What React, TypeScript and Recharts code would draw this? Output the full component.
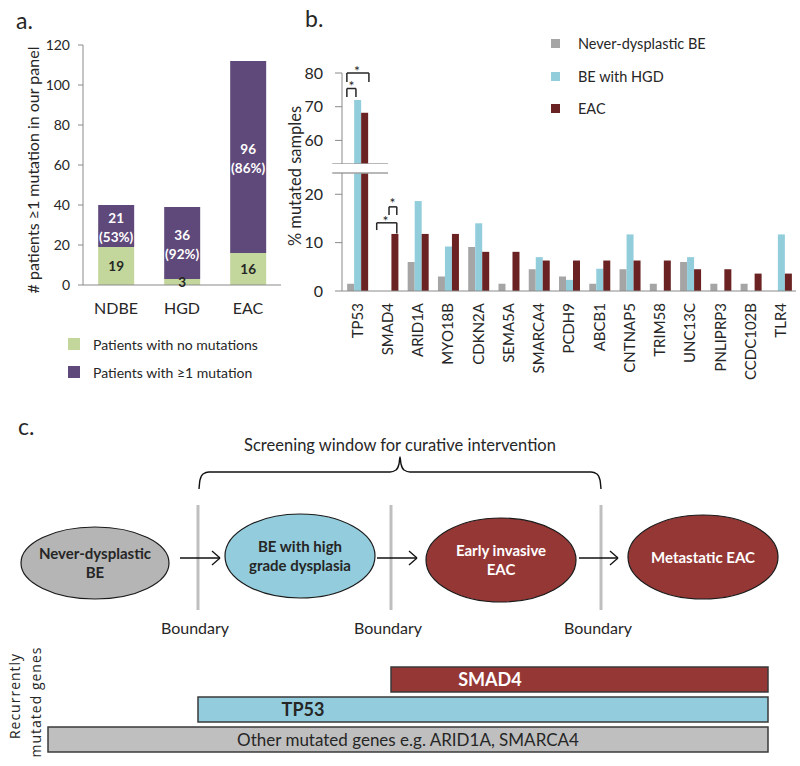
import React from 'react';
import {
  BarChart,
  Bar,
  XAxis,
  YAxis,
  Legend,
  LabelList,
  ReferenceLine,
  ReferenceDot,
  ComposedChart,
  Line,
  Scatter,
  Cell,
} from 'recharts';

const FONT = 'Lato, "Liberation Sans", Arial, sans-serif';
const INK = '#262626';
const AXIS = '#8a8a8a';

// ---------------- panel a ----------------
const cohortGroups = ['NDBE', 'HGD', 'EAC'];
const patientsNoMutation = [19, 3, 16];
const patientsWithMutation = [21, 36, 96];
const patientsWithMutationPct = ['53%', '92%', '86%'];
const panelATicks = [0, 20, 40, 60, 80, 100, 120];
const panelASeries = [
  { key: 'none', label: 'Patients with no mutations', color: '#c3d69b' },
  { key: 'some', label: 'Patients with \u22651 mutation', color: '#5f497a' },
];

// ---------------- panel b ----------------
const geneNames = ['TP53', 'SMAD4', 'ARID1A', 'MYO18B', 'CDKN2A', 'SEMA5A', 'SMARCA4', 'PCDH9', 'ABCB1', 'CNTNAP5', 'TRIM58', 'UNC13C', 'PNLIPRP3', 'CCDC102B', 'TLR4'];
const pctNeverDysplastic = [1.5, 0, 6.0, 3.0, 9.1, 1.5, 4.5, 3.0, 1.5, 4.5, 1.5, 6.0, 1.5, 1.5, 0];
const pctHGD = [72.0, 0, 18.6, 9.2, 14.0, 0, 7.0, 2.3, 4.6, 11.7, 0, 7.0, 0, 0, 11.7];
const pctEAC = [68.2, 11.8, 11.8, 11.8, 8.1, 8.1, 6.3, 6.3, 6.3, 6.3, 6.3, 4.5, 4.5, 3.6, 3.6];
const upperTicks = [60, 70, 80];
const lowerTicks = [0, 10, 20];
const upperDomain: [number, number] = [53, 80];
const lowerDomain: [number, number] = [0, 24.4];
const panelBSeries = [
  { key: 'ndbe', label: 'Never-dysplastic BE', color: '#a5a5a5' },
  { key: 'hgd', label: 'BE with HGD', color: '#92cddc' },
  { key: 'eac', label: 'EAC', color: '#6b2222' },
];
// significance brackets: x in category-band units, y in % units
const significanceBrackets = [
  { panel: 'upper', x1: 0.15, x2: 0.83, top: 80, y1: 77.3, y2: 77.3, starX: 0.46, starY: 80.6 },
  { panel: 'upper', x1: 0.15, x2: 0.43, top: 75.4, y1: 72.9, y2: 72.9, starX: 0.29, starY: 76.0 },
  { panel: 'lower', x1: 1.07, x2: 1.69, top: 14.1, y1: 12.6, y2: 11.9, starX: 1.34, starY: 14.4 },
  { panel: 'lower', x1: 1.45, x2: 1.69, top: 17.4, y1: 15.7, y2: 15.7, starX: 1.56, starY: 18.2 },
];
const axisBreak = { from: -0.3, to: 1.42 };

// ---------------- panel c ----------------
const stages = [
  { id: 'ndbe', label: 'Never-dysplastic\nBE', x: 95, y: 563 },
  { id: 'hgd', label: 'BE with high\ngrade dysplasia', x: 300, y: 556 },
  { id: 'early', label: 'Early invasive\nEAC', x: 501, y: 560 },
  { id: 'meta', label: 'Metastatic EAC', x: 703, y: 557 },
];
const stageBoundaries = [198, 391, 601];
const stageArrows = [
  { from: 180, to: 220, y: 558 },
  { from: 377, to: 417, y: 558 },
  { from: 579, to: 618, y: 558 },
];
const screeningBrace = [
  { x: 199, y: 489 }, { x: 200, y: 480 }, { x: 203, y: 474 }, { x: 209, y: 472 },
  { x: 390, y: 472 }, { x: 396, y: 470 }, { x: 399, y: 464 }, { x: 400, y: 457 },
  { x: 401, y: 464 }, { x: 404, y: 470 }, { x: 410, y: 472 }, { x: 591, y: 472 },
  { x: 597, y: 474 }, { x: 600, y: 480 }, { x: 601, y: 489 },
];
const geneWindows = [
  { gene: 'SMAD4', label: 'SMAD4', start: 391, end: 768 },
  { gene: 'TP53', label: 'TP53', start: 198, end: 768 },
  { gene: 'Other', label: 'Other mutated genes e.g. ARID1A, SMARCA4', start: 48, end: 768 },
];

const stageStyle: Record<string, any> = {
  ndbe: { fill: '#b5b5b5', text: INK, rx: 74, ry: 36 },
  hgd: { fill: '#93cddd', text: INK, rx: 75, ry: 42 },
  early: { fill: '#953735', text: '#ffffff', rx: 75, ry: 42 },
  meta: { fill: '#953735', text: '#ffffff', rx: 75, ry: 42 },
};
const geneStyle: Record<string, any> = {
  SMAD4: { fill: '#953735', text: '#ffffff', bold: true, inset: 99 },
  TP53: { fill: '#93cddd', text: INK, bold: true, inset: 105 },
  Other: { fill: '#bfbfbf', text: INK, bold: false, inset: null },
};

// ---------------- helpers ----------------
const MutatedLabel = (props: any) => {
  const { x, y, width, height, index } = props;
  const cx = x + width / 2;
  const cy = y + height / 2;
  return (
    <text x={cx} y={cy} textAnchor="middle" fill="#ffffff" fontFamily={FONT} fontSize={13.5} fontWeight={700}>
      <tspan x={cx} dy="-0.2em">{patientsWithMutation[index]}</tspan>
      <tspan x={cx} dy="1.4em">({patientsWithMutationPct[index]})</tspan>
    </text>
  );
};

const GeneTick = (props: any) => {
  const { x, y, payload } = props;
  return (
    <text x={x} y={y} transform={`rotate(-90 ${x} ${y})`} textAnchor="end" dy="0.36em" fontSize={15} fontFamily={FONT} fill={INK}>
      {payload.value}
    </text>
  );
};

const LegendA = () => (
  <div style={{ fontFamily: FONT, fontSize: 14, color: INK }}>
    {panelASeries.map((s) => (
      <div key={s.key} style={{ display: 'flex', alignItems: 'center', height: 28 }}>
        <span style={{ display: 'inline-block', width: 12, height: 12, background: s.color, marginRight: 13 }} />
        <span>{s.label}</span>
      </div>
    ))}
  </div>
);

const LegendB = () => (
  <div style={{ fontFamily: FONT, fontSize: 14.5, color: INK }}>
    {panelBSeries.map((s) => (
      <div key={s.key} style={{ display: 'flex', alignItems: 'center', height: 32.7 }}>
        <span style={{ display: 'inline-block', width: 9, height: 9, background: s.color, marginRight: 18 }} />
        <span>{s.label}</span>
      </div>
    ))}
  </div>
);

const renderBrackets = (which: string) =>
  significanceBrackets
    .filter((b) => b.panel === which)
    .flatMap((b, i) => [
      <ReferenceLine key={`${which}-l${i}`} xAxisId="pos" segment={[{ x: b.x1, y: b.y1 }, { x: b.x1, y: b.top }]} stroke={INK} strokeWidth={1.5} ifOverflow="visible" />,
      <ReferenceLine key={`${which}-t${i}`} xAxisId="pos" segment={[{ x: b.x1, y: b.top }, { x: b.x2, y: b.top }]} stroke={INK} strokeWidth={1.5} ifOverflow="visible" />,
      <ReferenceLine key={`${which}-r${i}`} xAxisId="pos" segment={[{ x: b.x2, y: b.top }, { x: b.x2, y: b.y2 }]} stroke={INK} strokeWidth={1.5} ifOverflow="visible" />,
      <ReferenceDot
        key={`${which}-s${i}`}
        xAxisId="pos"
        x={b.starX}
        y={b.starY}
        r={0}
        stroke="none"
        fill="none"
        ifOverflow="visible"
        label={{ value: '*', position: 'center', fontSize: 14, fill: INK, fontFamily: FONT }}
      />,
    ]);

const StageShape = (props: any) => {
  const { cx, cy, payload } = props;
  const st = stageStyle[payload.id];
  const lines: string[] = payload.label.split('\n');
  const lineGap = 19;
  return (
    <g>
      <ellipse cx={cx} cy={cy} rx={st.rx} ry={st.ry} fill={st.fill} stroke="#1a1a1a" strokeWidth={1.2} />
      <text x={cx} y={cy} textAnchor="middle" fill={st.text} fontFamily={FONT} fontSize={15} fontWeight={700}>
        {lines.map((l, i) => (
          <tspan key={i} x={cx} dy={i === 0 ? -((lines.length - 1) * lineGap) / 2 + 5.5 : lineGap}>
            {l}
          </tspan>
        ))}
      </text>
    </g>
  );
};

const GeneLabel = (props: any) => {
  const { x, y, width, height, index } = props;
  const g = geneWindows[index];
  const st = geneStyle[g.gene];
  const tx = st.inset == null ? x + width / 2 : x + st.inset;
  return (
    <text x={tx} y={y + height / 2} dy="0.36em" textAnchor="middle" fill={st.text} fontFamily={FONT} fontSize={st.bold ? 18 : 17} fontWeight={st.bold ? 700 : 400}>
      {g.label}
    </text>
  );
};

export default function App() {
  const panelAData = cohortGroups.map((g, i) => ({
    group: g,
    none: patientsNoMutation[i],
    some: patientsWithMutation[i],
  }));
  const panelBData = geneNames.map((g, i) => ({
    gene: g,
    ndbe: pctNeverDysplastic[i],
    hgd: pctHGD[i],
    eac: pctEAC[i],
  }));
  const keep = (v: number) => (v >= upperDomain[0] ? v : null);
  const upperData = panelBData.map((d) => ({ gene: d.gene, ndbe: keep(d.ndbe), hgd: keep(d.hgd), eac: keep(d.eac) }));
  const geneData = geneWindows.map((g) => ({ gene: g.gene, span: [g.start, g.end] }));

  const tickStyle = { fontSize: 14, fill: INK, fontFamily: FONT };
  const tickStyleB = { fontSize: 16, fill: INK, fontFamily: FONT };

  return (
    <div style={{ position: 'absolute', left: 0, top: 0, width: 800, height: 766, background: '#ffffff', overflow: 'hidden' }}>
      {/* titles */}
      <svg width={800} height={766} style={{ position: 'absolute', left: 0, top: 0 }}>
        <text x={16} y={29} fontSize={23} fontFamily={FONT} fill={INK}>a.</text>
        <text x={305} y={27} fontSize={23} fontFamily={FONT} fill={INK}>b.</text>
        <text x={18} y={435} fontSize={23} fontFamily={FONT} fill={INK}>c.</text>
        <text x={32} y={170} transform="rotate(-90 32 170)" textAnchor="middle" dominantBaseline="central" fontSize={16} fontFamily={FONT} fill={INK}>
          # patients ≥1 mutation in our panel
        </text>
        <text x={295} y={176} transform="rotate(-90 295 176)" textAnchor="middle" dominantBaseline="central" fontSize={16.5} fontFamily={FONT} fill={INK}>
          % mutated samples
        </text>
        <text x={14} y={696} transform="rotate(-90 14 696)" textAnchor="middle" dominantBaseline="central" fontSize={14} letterSpacing={1} fontFamily='"Open Sans", sans-serif' fill={INK}>
          Recurrently
        </text>
        <text x={35} y={702} transform="rotate(-90 35 702)" textAnchor="middle" dominantBaseline="central" fontSize={14} letterSpacing={1} fontFamily='"Open Sans", sans-serif' fill={INK}>
          mutated genes
        </text>
      </svg>

      {/* panel a */}
      <div style={{ position: 'absolute', left: 0, top: 0 }}>
        <BarChart width={290} height={390} data={panelAData} margin={{ top: 45, right: 9, bottom: 75, left: 38 }} barCategoryGap="23%">
          <XAxis dataKey="group" tickLine={false} tickSize={6} tickMargin={12} height={30} axisLine={{ stroke: AXIS }} tick={{ fontSize: 16, fill: INK, fontFamily: FONT }} />
          <YAxis domain={[0, 120]} ticks={panelATicks} width={45} tickSize={5} tickMargin={8} axisLine={{ stroke: AXIS }} tickLine={{ stroke: AXIS }} tick={tickStyle} />
          <Bar dataKey="none" stackId="a" fill={panelASeries[0].color} isAnimationActive={false}>
            <LabelList dataKey="none" position="center" fill={INK} fontSize={13.5} fontWeight={700} fontFamily={FONT} />
          </Bar>
          <Bar dataKey="some" stackId="a" fill={panelASeries[1].color} isAnimationActive={false}>
            <LabelList dataKey="some" content={MutatedLabel} />
          </Bar>
          <Legend layout="vertical" align="center" verticalAlign="middle" wrapperStyle={{ left: 68, top: 330, width: 220, bottom: 'auto' }} content={() => <LegendA />} />
        </BarChart>
      </div>

      {/* panel b: upper segment */}
      <div style={{ position: 'absolute', left: 280, top: 20 }}>
        <BarChart width={520} height={144} data={upperData} margin={{ top: 53, right: 4, bottom: 0, left: 22 }} barCategoryGap="17%" barGap={0}>
          <XAxis xAxisId="cat" dataKey="gene" hide />
          <XAxis xAxisId="pos" type="number" domain={[0, 15]} allowDataOverflow hide />
          <YAxis domain={upperDomain} ticks={upperTicks} allowDataOverflow width={40} tickSize={7} tickMargin={12} axisLine={{ stroke: AXIS }} tickLine={{ stroke: AXIS }} tick={tickStyleB} />
          {panelBSeries.map((s) => (
            <Bar key={s.key} xAxisId="cat" dataKey={s.key} fill={s.color} isAnimationActive={false} />
          ))}
          <ReferenceLine xAxisId="pos" segment={[{ x: axisBreak.from, y: upperDomain[0] }, { x: axisBreak.to, y: upperDomain[0] }]} stroke="#a0a0a0" strokeWidth={1.5} ifOverflow="visible" />
          {renderBrackets('upper')}
          <Legend layout="vertical" align="center" verticalAlign="middle" wrapperStyle={{ left: 271, top: 7, width: 240, bottom: 'auto' }} content={() => <LegendB />} />
        </BarChart>
      </div>

      {/* panel b: lower segment */}
      <div style={{ position: 'absolute', left: 280, top: 160 }}>
        <BarChart width={520} height={240} data={panelBData} margin={{ top: 13, right: 4, bottom: 24, left: 22 }} barCategoryGap="17%" barGap={0}>
          <XAxis xAxisId="cat" dataKey="gene" interval={0} height={85} tickLine={false} tickSize={0} tickMargin={12} axisLine={{ stroke: AXIS }} tick={<GeneTick />} />
          <XAxis xAxisId="pos" type="number" domain={[0, 15]} allowDataOverflow hide />
          <YAxis domain={lowerDomain} ticks={lowerTicks} allowDataOverflow width={40} tickSize={7} tickMargin={12} axisLine={{ stroke: AXIS }} tickLine={{ stroke: AXIS }} tick={tickStyleB} />
          {panelBSeries.map((s) => (
            <Bar key={s.key} xAxisId="cat" dataKey={s.key} fill={s.color} isAnimationActive={false} />
          ))}
          <ReferenceLine xAxisId="pos" segment={[{ x: axisBreak.from, y: lowerDomain[1] }, { x: axisBreak.to, y: lowerDomain[1] }]} stroke="#a0a0a0" strokeWidth={1.5} ifOverflow="visible" />
          {renderBrackets('lower')}
        </BarChart>
      </div>

      {/* panel c: progression diagram */}
      <div style={{ position: 'absolute', left: 0, top: 420 }}>
        <ComposedChart width={800} height={230} margin={{ top: 0, right: 0, bottom: 0, left: 0 }}>
          <XAxis type="number" dataKey="x" domain={[0, 800]} allowDataOverflow hide />
          <YAxis type="number" dataKey="y" domain={[420, 650]} reversed allowDataOverflow hide />
          {stageBoundaries.map((b) => (
            <ReferenceLine key={`b${b}`} segment={[{ x: b, y: 505 }, { x: b, y: 610 }]} stroke="#bfbfbf" strokeWidth={3} ifOverflow="visible" />
          ))}
          {stageBoundaries.map((b) => (
            <ReferenceDot key={`bl${b}`} x={b - 3} y={628} r={0} stroke="none" fill="none" ifOverflow="visible" label={{ value: 'Boundary', position: 'center', fontSize: 16, fill: INK, fontFamily: FONT }} />
          ))}
          {stageArrows.flatMap((a, i) => [
            <ReferenceLine key={`a${i}`} segment={[{ x: a.from, y: a.y }, { x: a.to, y: a.y }]} stroke="#111" strokeWidth={1.3} ifOverflow="visible" />,
            <ReferenceLine key={`ah${i}`} segment={[{ x: a.to - 8, y: a.y - 7 }, { x: a.to, y: a.y }]} stroke="#111" strokeWidth={1.3} ifOverflow="visible" />,
            <ReferenceLine key={`al${i}`} segment={[{ x: a.to - 8, y: a.y + 7 }, { x: a.to, y: a.y }]} stroke="#111" strokeWidth={1.3} ifOverflow="visible" />,
          ])}
          <Line data={screeningBrace} dataKey="y" type="monotone" stroke="#111" strokeWidth={1.4} dot={false} isAnimationActive={false} />
          <ReferenceDot x={400} y={445} r={0} stroke="none" fill="none" ifOverflow="visible" label={{ value: 'Screening window for curative intervention', position: 'center', fontSize: 16.5, fill: INK, fontFamily: FONT }} />
          <Scatter data={stages} dataKey="y" shape={<StageShape />} isAnimationActive={false} />
        </ComposedChart>
      </div>

      {/* panel c: recurrently mutated genes */}
      <div style={{ position: 'absolute', left: 0, top: 660 }}>
        <BarChart layout="vertical" width={800} height={100} data={geneData} margin={{ top: 4, right: 0, bottom: 6, left: 0 }} barSize={25}>
          <XAxis type="number" domain={[0, 800]} allowDataOverflow hide />
          <YAxis type="category" dataKey="gene" hide />
          <Bar dataKey="span" stroke="#3a3a3a" strokeWidth={1.5} isAnimationActive={false}>
            {geneData.map((g) => (
              <Cell key={g.gene} fill={geneStyle[g.gene].fill} />
            ))}
            <LabelList dataKey="span" content={GeneLabel} />
          </Bar>
        </BarChart>
      </div>
    </div>
  );
}
